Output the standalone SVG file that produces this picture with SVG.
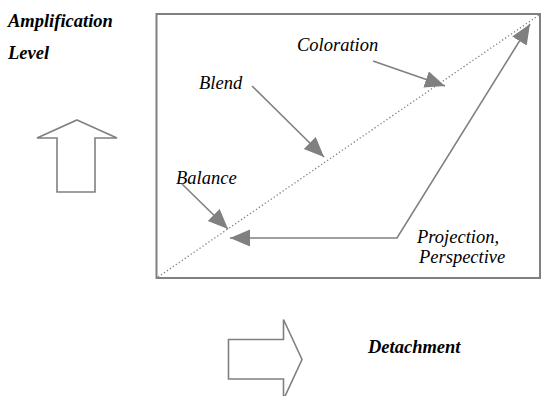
<svg xmlns="http://www.w3.org/2000/svg" width="541" height="396" viewBox="0 0 541 396">
<defs>
<style>
text{font-family:'Liberation Serif','DejaVu Serif',serif;font-style:italic;font-size:18.5px;fill:#000}
.bold{font-weight:bold}
.conn{stroke:#808080;stroke-width:1.6;fill:none}
.frame{stroke:#808080;stroke-width:2;fill:#fff}
.block{stroke:#808080;stroke-width:1.6;fill:#fff}
</style>
<marker id="ah" markerUnits="userSpaceOnUse" markerWidth="24" markerHeight="20" refX="20" refY="8.5" orient="auto-start-reverse">
<path d="M0,0 L20,8.5 L0,17 z" fill="#808080"/>
</marker>
</defs>
<rect width="541" height="396" fill="#fff"/>
<g id="frame">
<rect class="frame" x="156.5" y="14" width="383.5" height="264"/>
<line x1="158" y1="277" x2="539" y2="15" stroke="#808080" stroke-width="1.3" stroke-dasharray="1.3,2.3"/>
</g>
<g id="amplification-label">
<text class="bold" x="8" y="27" font-family="Liberation Serif, serif">Amplification</text>
<text class="bold" x="8" y="59" font-family="Liberation Serif, serif">Level</text>
</g>
<g id="up-arrow">
<polygon class="block" points="77,120 117,138 95,138 95,192 57,192 57,138 37,138"/>
</g>
<g id="right-arrow">
<polygon class="block" points="228.5,339.5 283.5,339.5 283.5,319.5 302,359.5 283.5,399.5 283.5,379 228.5,379"/>
</g>
<g id="detachment-label">
<text class="bold" x="368" y="353">Detachment</text>
</g>
<g id="coloration"><text x="297" y="50.5">Coloration</text></g>
<g id="blend"><text x="199" y="89">Blend</text></g>
<g id="balance"><text x="176" y="184">Balance</text></g>
<g id="projection">
<text x="417" y="243">Projection,</text>
<text x="419" y="263">Perspective</text>
</g>
<g id="connectors">
<line class="conn" x1="373" y1="61" x2="445" y2="86" marker-end="url(#ah)"/>
<line class="conn" x1="252" y1="86" x2="324" y2="157" marker-end="url(#ah)"/>
<line class="conn" x1="182" y1="184" x2="228" y2="229" marker-end="url(#ah)"/>
<polyline class="conn" points="530,24 397,238 230,238" marker-start="url(#ah)" marker-end="url(#ah)"/>
</g>
</svg>
